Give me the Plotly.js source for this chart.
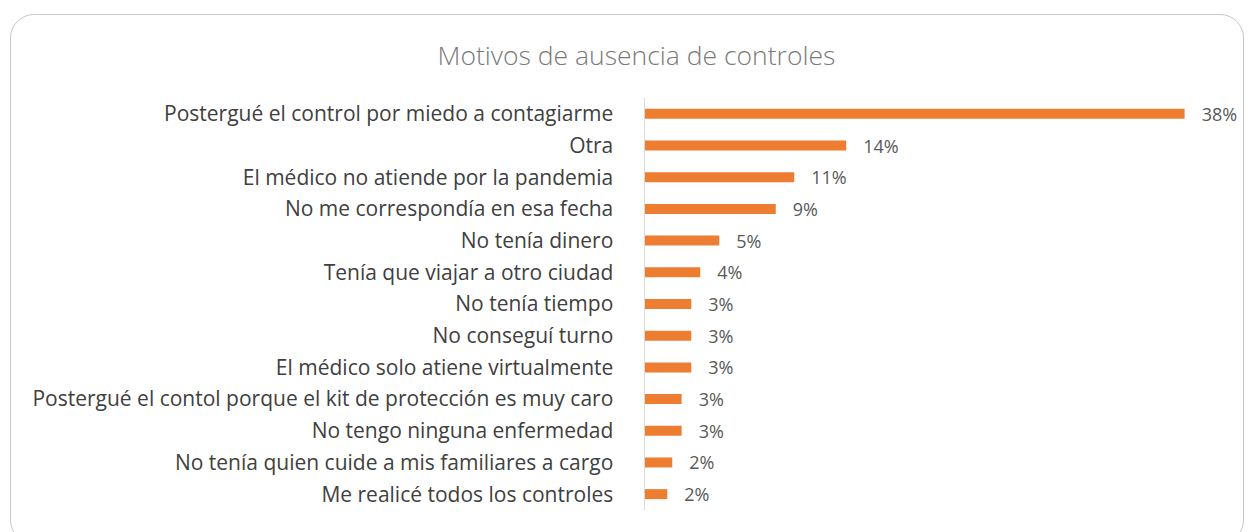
<!DOCTYPE html>
<html>
<head>
<meta charset="utf-8">
<script src="https://cdn.plot.ly/plotly-3.0.1.min.js"></script>
<style>
  html, body { margin: 0; padding: 0; background: #ffffff; }
  #wrap { position: relative; width: 1248px; height: 532px; overflow: hidden; }
  #frame { position: absolute; left: 10px; top: 14px; width: 1234px; height: 530px;
           border: 1.5px solid #c9c9c9; border-radius: 24px; box-sizing: border-box; pointer-events: none; }
  #chart { position: absolute; left: 0; top: 0; width: 1248px; height: 532px; }
</style>
</head>
<body>
<div id="wrap">
  <div id="chart"></div>
  <div id="frame"></div>
</div>
<script>
const categories = [
  "Postergué el control por miedo a contagiarme",
  "Otra",
  "El médico no atiende por la pandemia",
  "No me correspondía en esa fecha",
  "No tenía dinero",
  "Tenía que viajar a otro ciudad",
  "No tenía tiempo",
  "No conseguí turno",
  "El médico solo atiene virtualmente",
  "Postergué el contol porque el kit de protección es muy caro",
  "No tengo ninguna enfermedad",
  "No tenía quien cuide a mis familiares a cargo",
  "Me realicé todos los controles"
];
const values = [38.0, 14.17, 10.51, 9.21, 5.23, 3.89, 3.26, 3.26, 3.26, 2.58, 2.58, 1.92, 1.57];
const valueLabels = ["38%", "14%", "11%", "9%", "5%", "4%", "3%", "3%", "3%", "3%", "3%", "2%", "2%"];

const trace = {
  type: "bar",
  orientation: "h",
  y: categories,
  x: values,
  text: valueLabels.map(t => "\u00a0\u00a0\u00a0" + t),
  textposition: "outside",
  constraintext: "none",
  cliponaxis: false,
  textfont: { family: "'Open Sans', sans-serif", size: 18, color: "#595959" },
  marker: { color: "#ED7D31" },
  hoverinfo: "skip"
};

const layout = {
  width: 1248,
  height: 532,
  paper_bgcolor: "rgba(0,0,0,0)",
  plot_bgcolor: "rgba(0,0,0,0)",
  margin: { l: 645, r: 35, t: 98, b: 22 },
  showlegend: false,
  bargap: 0.685,
  title: {
    text: "Motivos de ausencia de controles",
    font: { family: "'Open Sans', sans-serif", size: 26.5, weight: 300, color: "#7a7a7a" },
    x: 0.51, xanchor: "center",
    y: 1 - 56 / 532, yref: "container", yanchor: "middle"
  },
  xaxis: {
    range: [0, 40],
    showgrid: false, zeroline: false, showticklabels: false, showline: false, ticks: ""
  },
  yaxis: {
    autorange: "reversed",
    type: "category",
    showgrid: false, zeroline: false,
    showline: true, linecolor: "#d9d9d9", linewidth: 1.5,
    ticks: "", ticklabelstandoff: 26,
    tickfont: { family: "'Open Sans', sans-serif", size: 21, color: "#404040" }
  }
};

Plotly.newPlot("chart", [trace], layout, { displayModeBar: false, staticPlot: true });
</script>
</body>
</html>
